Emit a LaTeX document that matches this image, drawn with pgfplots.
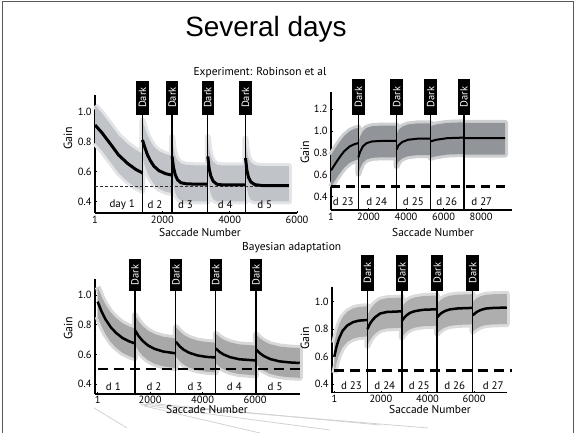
\documentclass[border=0pt]{standalone}
\usepackage{pgfplots}
\pgfplotsset{compat=1.18}
\usepackage{pgfplotstable}
\usepackage{fontspec}
\setmainfont{PT Sans}
\newfontfamily\titlefont{Liberation Sans}

\definecolor{cloudA}{RGB}{192,195,199}
\definecolor{cloudB}{RGB}{145,149,153}
\definecolor{cloudC}{RGB}{168,168,168}
\definecolor{cloudD}{RGB}{174,174,174}

% mean curves (nan rows separate the days)
\pgfplotstableread{
x m
0 0.91
200 0.86
470 0.78
700 0.71
960 0.655
1200 0.615
1410 0.59
nan nan
1410 0.81
1480 0.76
1560 0.71
1650 0.67
1750 0.635
1900 0.605
2100 0.585
2290 0.575
nan nan
2290 0.70
2330 0.63
2380 0.58
2450 0.545
2550 0.525
2700 0.518
3000 0.515
3350 0.515
nan nan
3350 0.70
3390 0.62
3440 0.57
3510 0.535
3620 0.515
3800 0.51
4470 0.51
nan nan
4470 0.69
4510 0.61
4560 0.56
4630 0.53
4750 0.512
5000 0.505
5760 0.505
}\tA

\pgfplotstableread{
x m
0 0.64
150 0.68
300 0.72
500 0.77
700 0.815
1000 0.86
1250 0.88
1460 0.89
nan nan
1460 0.76
1550 0.81
1700 0.86
1900 0.89
2200 0.905
2700 0.91
3500 0.91
nan nan
3500 0.83
3600 0.87
3800 0.90
4100 0.92
4600 0.93
5310 0.93
nan nan
5310 0.905
5600 0.92
6200 0.935
7090 0.94
nan nan
7090 0.935
8000 0.935
9280 0.935
}\tB

\pgfplotstableread{
x m
0 0.955
150 0.889
300 0.836
500 0.783
700 0.745
950 0.71
1200 0.688
1420 0.674
nan nan
1420 0.764
1570 0.721
1720 0.69
1920 0.66
2170 0.637
2500 0.619
2980 0.607
nan nan
2980 0.685
3130 0.654
3280 0.631
3500 0.61
3800 0.593
4150 0.583
4500 0.579
nan nan
4500 0.64
4650 0.616
4800 0.599
5050 0.581
5400 0.567
6030 0.559
nan nan
6030 0.635
6180 0.608
6330 0.589
6580 0.568
6930 0.553
7300 0.546
7700 0.542
}\tC

\pgfplotstableread{
x m
0 0.60
100 0.677
200 0.731
350 0.787
550 0.826
800 0.851
1050 0.862
1420 0.867
nan nan
1420 0.80
1520 0.837
1620 0.863
1770 0.89
1970 0.914
2250 0.925
2900 0.93
nan nan
2900 0.86
3000 0.884
3100 0.901
3250 0.919
3450 0.931
3800 0.941
4410 0.945
nan nan
4410 0.885
4510 0.905
4610 0.919
4760 0.933
4960 0.944
5300 0.951
5940 0.955
nan nan
5940 0.90
6040 0.916
6140 0.928
6290 0.94
6490 0.95
6850 0.955
7400 0.957
}\tD

\pgfplotsset{
  panel/.style={
    scale only axis, anchor=south west,
    axis lines=left, axis line style={-, line width=1.1bp},
    clip=false,
    tick style={black, line width=0.8bp}, major tick length=2bp, tick align=inside,
    ticklabel style={font=\fontsize{10.5}{12}\selectfont},
    /pgf/number format/assume math mode=true,
  },
  vline/.style={black, line width=1.2bp, forget plot},
  cloud/.style={draw=none, fill=#1, line join=round,
    preaction={draw=#1!45, line width=6bp}},
}
\tikzset{
  dark/.style={fill=black, text=white, rotate=90, anchor=west, inner sep=0.5bp,
    minimum height=12.5bp, font=\fontsize{10.5}{11}\selectfont},
  dayl/.style={font=\fontsize{11}{12}\selectfont},
  alab/.style={anchor=base, font=\fontsize{11.5}{14}\selectfont},
}

\begin{document}
\begin{tikzpicture}[x=1bp,y=1bp]
\useasboundingbox (0,0) rectangle (576,433);
% slide frame and decoration
\draw[gray!70!black, line width=0.8bp] (2.7,-3) -- (2.7,431.5) -- (573,431.5) -- (573,-3);
\draw[gray!35, line width=0.8bp] (94,25) -- (127,5);
\draw[gray!35, line width=0.8bp] (140,29) -- (428,5);
\draw[gray!35, line width=0.8bp] (142,28) -- (330,3);
\draw[gray!35, line width=0.8bp] (144,27) -- (260,0);
\draw[gray!35, line width=0.8bp] (146,30) -- (380,8);

\node[anchor=base, font=\titlefont\fontsize{28}{32}\selectfont] at (266,396.3) {Several days};
\node[anchor=base, font=\fontsize{11.5}{13}\selectfont] at (260,357) {Experiment: Robinson et al};
\node[anchor=base, font=\fontsize{11.5}{13}\selectfont] at (291.7,182.3) {Bayesian adaptation};

% ---------------- panel 1
\begin{axis}[panel, at={(95bp,220bp)}, width=202bp, height=118bp,
  xmin=0, xmax=6000, ymin=0.323, ymax=1.11,
  xtick={1,2000,4000,6000}, xticklabels={1,2000,4000,6000},
  ytick={0.4,0.6,0.8,1.0}, yticklabels={0.4,0.6,0.8,1.0}]
\addplot[cloud=cloudA] coordinates {
(0,1.04) (200,0.99) (470,0.91) (700,0.84) (960,0.785) (1200,0.745) (1410,0.72)
(1410,0.94) (1480,0.89) (1560,0.84) (1650,0.80) (1750,0.765) (1900,0.735) (2100,0.715) (2290,0.705)
(2290,0.83) (2330,0.76) (2380,0.71) (2450,0.675) (2550,0.655) (2700,0.645) (3000,0.64) (3350,0.64)
(3350,0.83) (3390,0.75) (3440,0.70) (3510,0.665) (3620,0.645) (3800,0.64) (4470,0.64)
(4470,0.82) (4510,0.74) (4560,0.69) (4630,0.66) (4750,0.642) (5000,0.635) (5760,0.635)
(5760,0.40) (5000,0.40) (4750,0.40) (4630,0.41) (4560,0.44) (4510,0.49) (4470,0.57)
(4470,0.40) (3800,0.40) (3620,0.40) (3510,0.415) (3440,0.45) (3390,0.50) (3350,0.58)
(3350,0.40) (3000,0.40) (2700,0.40) (2550,0.405) (2450,0.425) (2380,0.46) (2330,0.51) (2290,0.58)
(2290,0.455) (2100,0.465) (1900,0.485) (1750,0.515) (1650,0.55) (1560,0.59) (1480,0.64) (1410,0.69)
(1410,0.47) (1200,0.495) (960,0.535) (700,0.59) (470,0.66) (200,0.74) (0,0.79)};
\addplot[gray!40!black, line width=1bp, dash pattern=on 3bp off 2bp] coordinates {(0,0.5) (5760,0.5)};
\addplot[black, line width=3bp, unbounded coords=jump] table[x=x,y=m]{\tA};
\addplot[vline] coordinates {(1410,0.323) (1410,0.978)};
\addplot[vline] coordinates {(2290,0.323) (2290,0.978)};
\addplot[vline] coordinates {(3350,0.323) (3350,0.978)};
\addplot[vline] coordinates {(4470,0.323) (4470,0.978)};
\node[dark, minimum width=34bp] at (axis cs:1410,0.978) {Dark};
\node[dark, minimum width=34bp] at (axis cs:2290,0.978) {Dark};
\node[dark, minimum width=34bp] at (axis cs:3350,0.978) {Dark};
\node[dark, minimum width=34bp] at (axis cs:4470,0.978) {Dark};
\node[dayl] at (axis cs:810,0.377) {day 1};
\node[dayl] at (axis cs:1780,0.377) {d 2};
\node[dayl] at (axis cs:2690,0.377) {d 3};
\node[dayl] at (axis cs:3870,0.377) {d 4};
\node[dayl] at (axis cs:5040,0.377) {d 5};
\end{axis}

% ---------------- panel 2
\begin{axis}[panel, at={(331bp,223bp)}, width=181bp, height=118.3bp,
  xmin=0, xmax=9650, ymin=0.278, ymax=1.36,
  xtick={1,2000,4000,6000,8000}, xticklabels={1,2000,4000,6000,8000},
  ytick={0.4,0.6,0.8,1.0,1.2}, yticklabels={0.4,0.6,0.8,1.0,1.2}]
\addplot[cloud=cloudB] coordinates {
(0,0.78) (150,0.82) (300,0.86) (500,0.91) (700,0.955) (1000,1.00) (1250,1.02) (1460,1.03)
(1460,0.90) (1550,0.95) (1700,1.00) (1900,1.03) (2200,1.045) (2700,1.05) (3500,1.05)
(3500,0.97) (3600,1.01) (3800,1.04) (4100,1.06) (4600,1.07) (5310,1.07)
(5310,1.045) (5600,1.06) (6200,1.075) (7090,1.08)
(7090,1.075) (8000,1.075) (9280,1.075)
(9280,0.785) (8000,0.785) (7090,0.785)
(7090,0.79) (6200,0.785) (5600,0.77) (5310,0.755)
(5310,0.78) (4600,0.78) (4100,0.77) (3800,0.75) (3600,0.72) (3500,0.68)
(3500,0.76) (2700,0.76) (2200,0.755) (1900,0.74) (1700,0.71) (1550,0.66) (1460,0.61)
(1460,0.74) (1250,0.73) (1000,0.71) (700,0.665) (500,0.62) (300,0.57) (150,0.53) (0,0.49)};
\addplot[black, line width=3bp, dash pattern=on 9bp off 6bp] coordinates {(0,0.49) (9430,0.49)};
\addplot[black, line width=2bp, unbounded coords=jump] table[x=x,y=m]{\tB};
\addplot[vline] coordinates {(1460,0.278) (1460,1.148)};
\addplot[vline] coordinates {(3500,0.278) (3500,1.148)};
\addplot[vline] coordinates {(5310,0.278) (5310,1.148)};
\addplot[vline] coordinates {(7090,0.278) (7090,1.148)};
\node[dark, minimum width=35.5bp] at (axis cs:1460,1.148) {Dark};
\node[dark, minimum width=35.5bp] at (axis cs:3500,1.148) {Dark};
\node[dark, minimum width=35.5bp] at (axis cs:5310,1.148) {Dark};
\node[dark, minimum width=35.5bp] at (axis cs:7090,1.148) {Dark};
\node[dayl] at (axis cs:656,0.354) {d 23};
\node[dayl] at (axis cs:2440,0.354) {d 24};
\node[dayl] at (axis cs:4390,0.354) {d 25};
\node[dayl] at (axis cs:6170,0.354) {d 26};
\node[dayl] at (axis cs:8040,0.354) {d 27};
\end{axis}

% ---------------- panel 3
\begin{axis}[panel, at={(95bp,39bp)}, width=204.75bp, height=114.7bp,
  xmin=-100, xmax=7700, ymin=0.333, ymax=1.106,
  xticklabel style={yshift=1.2bp},
  xtick={1,2000,4000,6000}, xticklabels={1,2000,4000,6000},
  ytick={0.4,0.6,0.8,1.0}, yticklabels={0.4,0.6,0.8,1.0}]
\addplot[cloud=cloudC] coordinates {
(0,1.055) (150,0.989) (300,0.936) (500,0.883) (700,0.845) (950,0.81) (1200,0.788) (1420,0.774)
(1420,0.864) (1570,0.821) (1720,0.79) (1920,0.76) (2170,0.737) (2500,0.719) (2980,0.707)
(2980,0.785) (3130,0.754) (3280,0.731) (3500,0.71) (3800,0.693) (4150,0.683) (4500,0.679)
(4500,0.74) (4650,0.716) (4800,0.699) (5050,0.681) (5400,0.667) (6030,0.659)
(6030,0.735) (6180,0.708) (6330,0.689) (6580,0.668) (6930,0.653) (7300,0.646) (7700,0.642)
(7700,0.442) (7300,0.446) (6930,0.453) (6580,0.468) (6330,0.489) (6180,0.508) (6030,0.535)
(6030,0.459) (5400,0.467) (5050,0.481) (4800,0.499) (4650,0.516) (4500,0.54)
(4500,0.479) (4150,0.483) (3800,0.493) (3500,0.51) (3280,0.531) (3130,0.554) (2980,0.585)
(2980,0.507) (2500,0.519) (2170,0.537) (1920,0.56) (1720,0.59) (1570,0.621) (1420,0.664)
(1420,0.574) (1200,0.588) (950,0.61) (700,0.645) (500,0.683) (300,0.736) (150,0.789) (0,0.855)};
\addplot[black, line width=2.5bp, dash pattern=on 10bp off 6bp] coordinates {(0,0.5) (7700,0.5)};
\addplot[black, line width=2.5bp, unbounded coords=jump] table[x=x,y=m]{\tC};
\addplot[vline] coordinates {(1420,0.333) (1420,1.027)};
\addplot[vline] coordinates {(2980,0.333) (2980,1.027)};
\addplot[vline] coordinates {(4500,0.333) (4500,1.027)};
\addplot[vline] coordinates {(6030,0.333) (6030,1.027)};
\node[dark, minimum width=31.7bp] at (axis cs:1420,1.027) {Dark};
\node[dark, minimum width=31.7bp] at (axis cs:2980,1.027) {Dark};
\node[dark, minimum width=31.7bp] at (axis cs:4500,1.027) {Dark};
\node[dark, minimum width=31.7bp] at (axis cs:6030,1.027) {Dark};
\node[dayl] at (axis cs:600,0.382) {d 1};
\node[dayl] at (axis cs:2150,0.382) {d 2};
\node[dayl] at (axis cs:3710,0.382) {d 3};
\node[dayl] at (axis cs:5210,0.382) {d 4};
\node[dayl] at (axis cs:6760,0.382) {d 5};
\end{axis}

% ---------------- panel 4
\begin{axis}[panel, at={(332bp,40.3bp)}, width=174.75bp, height=105.4bp,
  xmin=-100, xmax=7400, ymin=0.337, ymax=1.105,
  xticklabel style={yshift=1.2bp},
  xtick={1,2000,4000,6000}, xticklabels={1,2000,4000,6000},
  ytick={0.4,0.6,0.8,1.0}, yticklabels={0.4,0.6,0.8,1.0}]
\addplot[cloud=cloudD] coordinates {
(0,0.70) (100,0.777) (200,0.831) (350,0.887) (550,0.926) (800,0.951) (1050,0.962) (1420,0.967)
(1420,0.90) (1520,0.937) (1620,0.963) (1770,0.99) (1970,1.014) (2250,1.025) (2900,1.03)
(2900,0.96) (3000,0.984) (3100,1.001) (3250,1.019) (3450,1.031) (3800,1.041) (4410,1.045)
(4410,0.985) (4510,1.005) (4610,1.019) (4760,1.033) (4960,1.044) (5300,1.051) (5940,1.055)
(5940,1.00) (6040,1.016) (6140,1.028) (6290,1.04) (6490,1.05) (6850,1.055) (7400,1.057)
(7400,0.837) (6850,0.835) (6490,0.83) (6290,0.82) (6140,0.808) (6040,0.796) (5940,0.78)
(5940,0.835) (5300,0.831) (4960,0.824) (4760,0.813) (4610,0.799) (4510,0.785) (4410,0.765)
(4410,0.825) (3800,0.821) (3450,0.811) (3250,0.799) (3100,0.781) (3000,0.764) (2900,0.74)
(2900,0.81) (2250,0.805) (1970,0.794) (1770,0.77) (1620,0.743) (1520,0.717) (1420,0.68)
(1420,0.747) (1050,0.742) (800,0.731) (550,0.706) (350,0.667) (200,0.611) (100,0.557) (0,0.48)};
\addplot[black, line width=2.5bp, dash pattern=on 10bp off 6bp] coordinates {(0,0.5) (7640,0.5)};
\addplot[black, line width=2.5bp, unbounded coords=jump] table[x=x,y=m]{\tD};
\addplot[vline] coordinates {(1420,0.337) (1420,1.08)};
\addplot[vline] coordinates {(2900,0.337) (2900,1.08)};
\addplot[vline] coordinates {(4410,0.337) (4410,1.08)};
\addplot[vline] coordinates {(5940,0.337) (5940,1.08)};
\node[dark, minimum width=35.5bp] at (axis cs:1420,1.08) {Dark};
\node[dark, minimum width=35.5bp] at (axis cs:2900,1.08) {Dark};
\node[dark, minimum width=35.5bp] at (axis cs:4410,1.08) {Dark};
\node[dark, minimum width=35.5bp] at (axis cs:5940,1.08) {Dark};
\node[dayl] at (axis cs:738,0.385) {d 23};
\node[dayl] at (axis cs:2167,0.385) {d 24};
\node[dayl] at (axis cs:3640,0.385) {d 25};
\node[dayl] at (axis cs:5170,0.385) {d 26};
\node[dayl] at (axis cs:6816,0.385) {d 27};
\end{axis}

% axis titles
\node[alab] at (200,196.3) {Saccade Number};
\node[alab] at (433,196.3) {Saccade Number};
\node[alab] at (207,19) {Saccade Number};
\node[alab] at (430,19) {Saccade Number};
\node[rotate=90, font=\fontsize{12}{14}\selectfont] at (68,295) {Gain};
\node[rotate=90, font=\fontsize{12}{14}\selectfont] at (305,281) {Gain};
\node[rotate=90, font=\fontsize{12}{14}\selectfont] at (68.3,105) {Gain};
\node[rotate=90, font=\fontsize{12}{14}\selectfont] at (305,95) {Gain};
\end{tikzpicture}
\end{document}
